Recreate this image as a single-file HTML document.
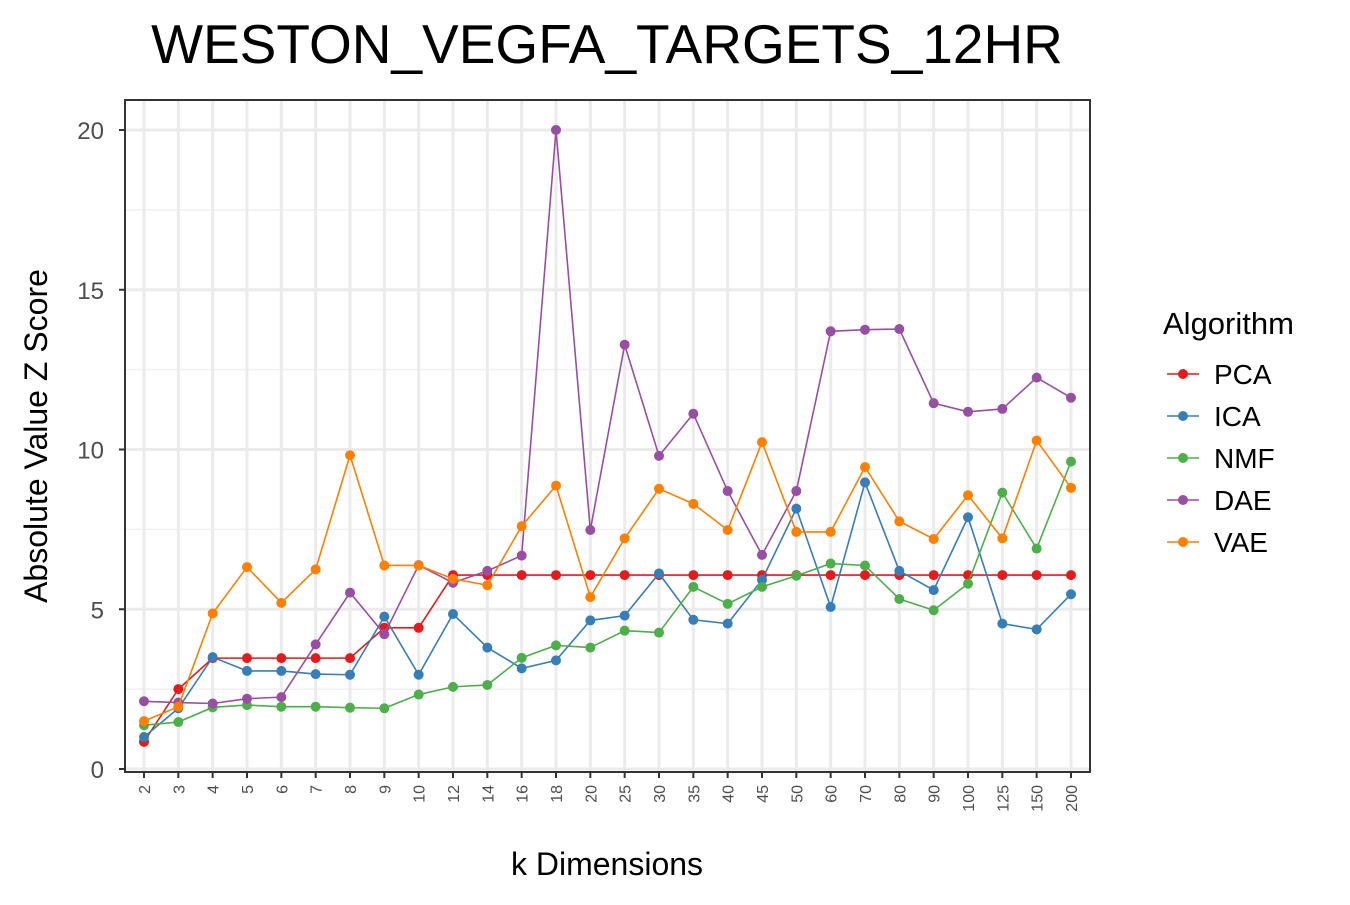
<!DOCTYPE html>
<html><head><meta charset="utf-8"><style>
body{margin:0;background:#fff;font-family:"Liberation Sans",Arial,sans-serif}
svg text{font-family:"Liberation Sans",Arial,sans-serif}
</style></head><body>
<svg id="chart" width="1350" height="900" xmlns="http://www.w3.org/2000/svg">
<text x="607" y="63" font-size="55" text-anchor="middle" fill="#000">WESTON_VEGFA_TARGETS_12HR</text>
<g id="grid"></g>
<g id="series"></g>
<rect x="125" y="100" width="965" height="672" fill="none" stroke="#333" stroke-width="2"/>
<g id="axes"></g>
<text x="607" y="875" font-size="32" text-anchor="middle">k Dimensions</text>
<text transform="translate(47,436) rotate(-90)" font-size="32" text-anchor="middle">Absolute Value Z Score</text>
<g id="legend"></g>
</svg>
<script>
const categories=["2","3","4","5","6","7","8","9","10","12","14","16","18","20","25","30","35","40","45","50","60","70","80","90","100","125","150","200"];
const yTicks=[0,5,10,15,20];
const seriesNames=["PCA","ICA","NMF","DAE","VAE"];
const pca=[0.85,2.5,3.47,3.47,3.47,3.47,3.47,4.42,4.42,6.07,6.07,6.07,6.07,6.07,6.07,6.07,6.07,6.07,6.07,6.07,6.07,6.07,6.07,6.07,6.07,6.07,6.07,6.07];
const ica=[1.0,1.9,3.5,3.07,3.07,2.97,2.95,4.77,2.95,4.85,3.8,3.15,3.4,4.65,4.8,6.12,4.67,4.55,5.92,8.15,5.07,8.97,6.2,5.6,7.88,4.55,4.37,5.47];
const nmf=[1.37,1.47,1.93,2.0,1.95,1.95,1.92,1.9,2.33,2.57,2.63,3.48,3.87,3.8,4.33,4.27,5.7,5.17,5.7,6.05,6.43,6.37,5.32,4.97,5.8,8.65,6.9,9.62];
const dae=[2.12,2.08,2.05,2.2,2.25,3.9,5.52,4.22,6.38,5.83,6.2,6.68,20.0,7.48,13.28,9.8,11.12,8.7,6.7,8.7,13.7,13.75,13.77,11.45,11.18,11.27,12.25,11.62];
const vae=[1.5,1.95,4.87,6.32,5.2,6.25,9.82,6.37,6.37,5.95,5.75,7.6,8.87,5.38,7.22,8.77,8.3,7.48,10.23,7.42,7.42,9.45,7.75,7.2,8.57,7.22,10.28,8.8];
const colors=["#E41A1C","#377EB8","#4DAF4A","#984EA3","#FF7F00"];
const data=[pca,ica,nmf,dae,vae];
const NS="http://www.w3.org/2000/svg";
const X0=125,X1=1090,Y0=100,Y1=772;
const xs=i=>144+i*(1071-144)/(categories.length-1);
const ys=v=>769-v*(769-130)/20;
function mk(tag,attrs,parent){const e=document.createElementNS(NS,tag);for(const k in attrs)e.setAttribute(k,attrs[k]);parent.appendChild(e);return e;}
const grid=document.getElementById('grid'),axes=document.getElementById('axes'),ser=document.getElementById('series'),leg=document.getElementById('legend');
for(let v=2.5;v<20;v+=5){const l=mk('line',{x1:X0,x2:X1,y1:ys(v),y2:ys(v),stroke:'#f0f0f0','stroke-width':1.5},grid);
}
yTicks.forEach(v=>{const l=mk('line',{x1:X0,x2:X1,y1:ys(v),y2:ys(v),stroke:'#ebebeb','stroke-width':3},grid);

const t=mk('line',{x1:X0-6,x2:X0,y1:ys(v),y2:ys(v),stroke:'#333','stroke-width':2},axes);

const tx=mk('text',{x:X0-21,y:ys(v)+9,'font-size':24,'text-anchor':'end',fill:'#4d4d4d'},axes);tx.textContent=v;
});
categories.forEach((c,i)=>{const l=mk('line',{x1:xs(i),x2:xs(i),y1:Y0,y2:Y1,stroke:'#ebebeb','stroke-width':3},grid);

const t=mk('line',{x1:xs(i),x2:xs(i),y1:Y1,y2:Y1+6,stroke:'#333','stroke-width':2},axes);

const tx=mk('text',{transform:`translate(${xs(i)+6},${Y1+13}) rotate(-90)`,'font-size':16,'text-anchor':'end',fill:'#4d4d4d'},axes);tx.textContent=c;
});
data.forEach((arr,s)=>{const g=mk('g',{},ser);

const p=mk('polyline',{points:arr.map((v,i)=>xs(i)+','+ys(v)).join(' '),fill:'none',stroke:colors[s],'stroke-width':1.6},g);

arr.forEach((v,i)=>{const c=mk('circle',{cx:xs(i),cy:ys(v),r:5,fill:colors[s]},g);
});});
const lt=mk('text',{x:1163,y:334,'font-size':31},leg);lt.textContent='Algorithm';

seriesNames.forEach((n,s)=>{const y=374+s*42;const g=mk('g',{},leg);

mk('line',{x1:1167,x2:1199,y1:y,y2:y,stroke:colors[s],'stroke-width':1.6},g);
mk('circle',{cx:1183,cy:y,r:5,fill:colors[s]},g);
const t=mk('text',{x:1214,y:y+10,'font-size':28},g);t.textContent=n;});
</script>
</body></html>
